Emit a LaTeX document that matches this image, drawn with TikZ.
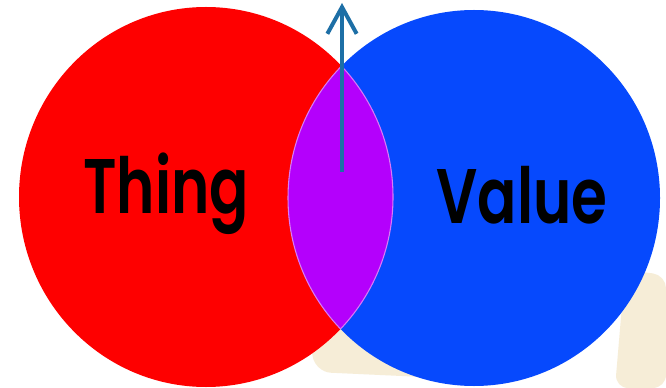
\documentclass[tikz,border=0pt]{standalone}
\usepackage{fontspec}
\newfontfamily\vennfont{Poppins}[BoldFont={* SemiBold}]
\usetikzlibrary{arrows.meta}
\definecolor{thingred}{HTML}{FE0000}
\definecolor{valueblue}{HTML}{0649FD}
\definecolor{lens}{HTML}{B400FC}
\definecolor{lensedge}{HTML}{D97BF5}
\definecolor{arrowblue}{HTML}{1D6FA6}
\definecolor{wmark}{HTML}{F6EDD7}

\begin{document}
\begin{tikzpicture}[x=0.75pt,y=-0.75pt,
  word/.style={font=\vennfont\bfseries\fontsize{58}{60}\selectfont,text=black,anchor=base,inner sep=0pt,xscale=0.75,transform shape},
  >={Straight Barb[length=20pt,width=22pt,line width=3pt]}]
\useasboundingbox (0,0) rectangle (666,388);
\fill[white] (0,0) rectangle (666,388);
% faint watermark behind the sets
\fill[wmark,rounded corners=12pt] (305,305) -- (440,305) -- (445,378) -- (315,372) -- cycle;
\fill[wmark,rounded corners=10pt] (625,270) -- (666,275) -- (666,388) -- (615,388) -- cycle;
\coordinate (cthing) at (206,197);
\coordinate (cvalue) at (474,198);
\fill[thingred] (cthing) ellipse [x radius=187,y radius=190];
\fill[valueblue] (cvalue) ellipse [x radius=186,y radius=188];
% overlap
\begin{scope}
\clip (cthing) ellipse [x radius=187,y radius=190];
\fill[lens] (cvalue) ellipse [x radius=186,y radius=188];
\draw[lensedge,line width=0.8pt] (cvalue) ellipse [x radius=186,y radius=188];
\end{scope}
\begin{scope}
\clip (cvalue) ellipse [x radius=186,y radius=188];
\draw[lensedge,line width=0.8pt] (cthing) ellipse [x radius=187,y radius=190];
\end{scope}
\node[word] (thing) at (166,213) {Thing};
\node[word] (value) at (522,223) {Value};
\coordinate (tail) at (342,172);
\coordinate (head) at (342,3);
\draw[->,arrowblue,line width=3pt] (tail) -- (head);
\end{tikzpicture}
\end{document}
